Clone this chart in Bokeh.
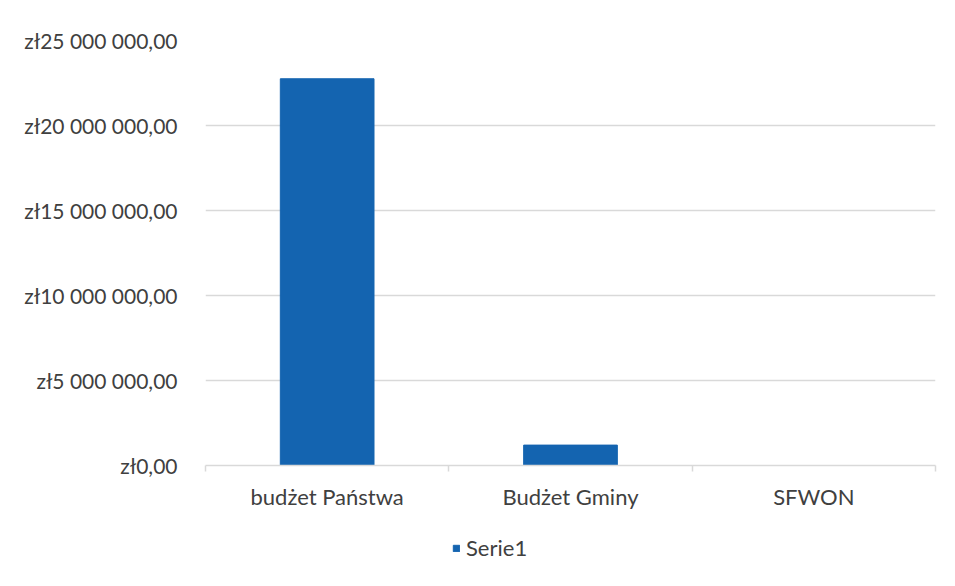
from bokeh.plotting import figure
from bokeh.layouts import column
from bokeh.models import (Range1d, LinearAxis, FixedTicker, Legend, LegendItem,
                          ColumnDataSource)
from bokeh.embed import file_html
from bokeh.resources import INLINE

categories = ["budżet Państwa", "Budżet Gminy", "SFWON"]
values = [22750000, 1200000, 0]
series_name = "Serie1"
y_ticks = [0, 5000000, 10000000, 15000000, 20000000, 25000000]
y_labels = ["zł0,00", "zł5 000 000,00", "zł10 000 000,00", "zł15 000 000,00",
            "zł20 000 000,00", "zł25 000 000,00"]

BAR = "#1464b0"
TXT = "#404040"
GRID = "#d9d9d9"
FONT = "Lato"
FS = "22px"
FS_Y = "21px"

n = len(categories)
centers = [i + 0.5 for i in range(n)]
edges = list(range(n + 1))

p = figure(width=947, height=523, output_backend="svg", toolbar_location=None,
           x_range=Range1d(0, n), y_range=Range1d(0, 25000000),
           x_axis_location=None, y_axis_location=None,
           min_border_left=205, min_border_right=12, min_border_top=40,
           min_border_bottom=58)
p.outline_line_color = None
p.background_fill_color = "white"
p.border_fill_color = "white"

src = ColumnDataSource(dict(x=centers, val=values, cat=categories))
bars = p.vbar(x="x", top="val", width=0.385, source=src, color=BAR)

yax = LinearAxis(ticker=FixedTicker(ticks=y_ticks),
                 major_label_overrides={t: l for t, l in zip(y_ticks, y_labels)})
yax.axis_line_color = None
yax.major_tick_line_color = None
yax.minor_tick_line_color = None
yax.major_label_standoff = 22
yax.major_label_text_font = FONT
yax.major_label_text_font_size = FS_Y
yax.major_label_text_color = TXT
p.add_layout(yax, "left")

p.ygrid.grid_line_color = GRID
p.ygrid.grid_line_width = 1.5
p.xgrid.grid_line_color = None

eax = LinearAxis(ticker=FixedTicker(ticks=edges),
                 major_label_overrides={e: "" for e in edges})
eax.axis_line_color = GRID
eax.axis_line_width = 1.5
eax.major_tick_line_color = GRID
eax.major_tick_line_width = 1.5
eax.major_tick_out = 6
eax.major_tick_in = 0
eax.minor_tick_line_color = None
eax.major_label_standoff = 0
p.add_layout(eax, "below")

cax = LinearAxis(ticker=FixedTicker(ticks=centers),
                 major_label_overrides={c: l for c, l in zip(centers, categories)})
cax.axis_line_color = None
cax.major_tick_line_color = None
cax.minor_tick_line_color = None
cax.major_label_standoff = 5
cax.major_label_text_font = FONT
cax.major_label_text_font_size = FS
cax.major_label_text_color = TXT
p.add_layout(cax, "below")

# legend strip
p2 = figure(width=947, height=50, output_backend="svg", toolbar_location=None,
            x_range=Range1d(1, 2), y_range=Range1d(1, 2),
            x_axis_location=None, y_axis_location=None,
            min_border_left=0, min_border_right=0, min_border_top=0,
            min_border_bottom=0)
p2.outline_line_color = None
p2.grid.grid_line_color = None
key = p2.vbar(x=[0], top=[0], width=0.385, color=BAR)
legend = Legend(items=[LegendItem(label=series_name, renderers=[key])],
                orientation="horizontal", location=(247, 12),
                glyph_width=8, glyph_height=8, label_standoff=6,
                label_text_font=FONT, label_text_font_size=FS,
                label_text_color=TXT, border_line_color=None,
                background_fill_alpha=0, padding=0, margin=0)
p2.add_layout(legend, "center")

layout = column(p, p2, spacing=0)
open("out.html", "w").write(file_html(layout, INLINE))
